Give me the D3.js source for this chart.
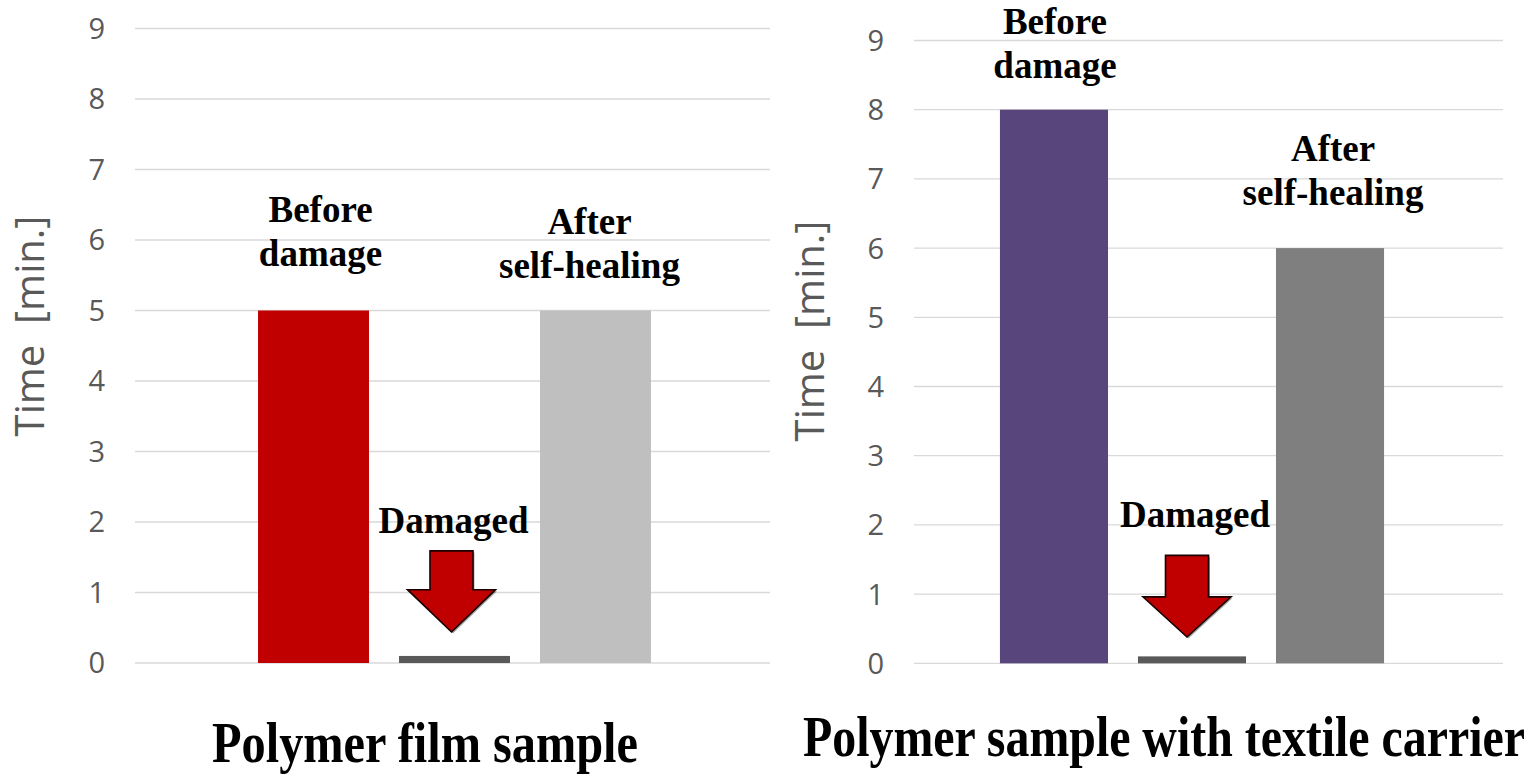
<!DOCTYPE html>
<html>
<head>
<meta charset="utf-8">
<script src="https://cdn.jsdelivr.net/npm/d3@7"></script>
<style>
  html, body { margin: 0; padding: 0; background: #fff; }
  svg { display: block; }
  .tick-label { font-family: "Open Sans", sans-serif; fill: #595959; }
  .axis-title { font-family: "Open Sans", sans-serif; fill: #595959; white-space: pre; }
  .note { font-family: "Liberation Serif", "Times New Roman", serif; font-weight: bold; fill: #000; }
</style>
</head>
<body>
<svg id="chart" width="1531" height="775"></svg>
<script>
// Categories shared by both panels
const categories = ["Before damage", "Damaged", "After self-healing"];

// Time values [min.] for each panel
const filmValues = [5, 0.1, 5];
const textileValues = [8, 0.1, 6];

// Y-axis ticks
const yTicks = [0, 1, 2, 3, 4, 5, 6, 7, 8, 9];

// Panel titles and bar colours
const filmTitle = "Polymer film sample";
const textileTitle = "Polymer sample with textile carrier";
const filmColors = ["#c00000", "#595959", "#bfbfbf"];
const textileColors = ["#57457b", "#595959", "#7f7f7f"];

// Arrow above the damaged bar, in axis units: shaft top, head base, tip
const filmArrow = [1.59, 1.04, 0.44];
const textileArrow = [1.56, 0.96, 0.38];

const svg = d3.select("#chart");

function panel(cfg) {
  const g = svg.append("g");
  const y = d3.scaleLinear().domain([0, 9]).range([cfg.y0, cfg.y9]);
  const x = d3.scaleBand().domain(categories).range(cfg.xr).padding(cfg.pad);

  // horizontal gridlines
  g.selectAll("line.grid").data(yTicks).join("line")
    .attr("class", "grid")
    .attr("x1", cfg.gx0).attr("x2", cfg.gx1)
    .attr("y1", d => y(d)).attr("y2", d => y(d))
    .attr("stroke", "#d9d9d9").attr("stroke-width", 1.3);

  // tick labels
  g.selectAll("text.tick-label").data(yTicks).join("text")
    .attr("class", "tick-label")
    .attr("x", cfg.tx).attr("y", d => y(d))
    .attr("dy", "0.36em")
    .attr("text-anchor", "end")
    .attr("font-size", 29)
    .text(d => d);

  // y-axis title
  g.append("text")
    .attr("class", "axis-title")
    .attr("transform", `translate(${cfg.ax},${cfg.ay}) rotate(-90)`)
    .attr("text-anchor", "middle")
    .attr("font-size", 40)
    .text("Time  [min.]");

  // bars
  g.selectAll("rect.bar").data(cfg.values).join("rect")
    .attr("class", "bar")
    .attr("x", (d, i) => x(categories[i]))
    .attr("width", x.bandwidth())
    .attr("y", d => y(d))
    .attr("height", d => y(0) - y(d))
    .attr("fill", (d, i) => cfg.colors[i]);

  // arrow pointing down at the damaged bar
  const cx = x(categories[1]) + x.bandwidth() / 2 + cfg.arrowDx;
  const [aTop, aBase, aTip] = cfg.arrow.map(v => y(v));
  const sw = 21.5, hw = 44;
  const pts = [[cx - sw, aTop], [cx + sw, aTop], [cx + sw, aBase], [cx + hw, aBase],
               [cx, aTip], [cx - hw, aBase], [cx - sw, aBase]];
  g.append("path")
    .attr("d", d3.line()(pts) + "Z")
    .attr("fill", "#000").attr("opacity", 0.35)
    .attr("transform", "translate(1.5,1.5)");
  g.append("path")
    .attr("d", d3.line()(pts) + "Z")
    .attr("fill", "#c00000")
    .attr("stroke", "#1a0000").attr("stroke-width", 1.6)
    .attr("stroke-linejoin", "miter");

  // category notes above the bars
  cfg.notes.forEach((n, i) => {
    const t = g.append("text")
      .attr("class", "note")
      .attr("text-anchor", "middle")
      .attr("font-size", 37);
    n.lines.forEach((ln, k) => {
      t.append("tspan")
        .attr("x", x(categories[i]) + x.bandwidth() / 2 + n.dx)
        .attr("y", y(cfg.values[i]) - n.rise + k * 44)
        .text(ln);
    });
  });

  // panel title, narrowed horizontally to its target width
  const title = g.append("text")
    .attr("class", "note")
    .attr("text-anchor", "middle")
    .attr("font-size", cfg.titleSize)
    .text(cfg.title);
  const natural = title.node().getComputedTextLength();
  const sx = cfg.titleLen / natural;
  title.attr("transform", `translate(${cfg.titleX},${cfg.titleY}) scale(${sx},1)`);
}

panel({
  values: filmValues, colors: filmColors, arrow: filmArrow, arrowDx: -3,
  y0: 663, y9: 28.5, xr: [228, 681], pad: 0.213,
  gx0: 135, gx1: 770, tx: 105, ax: 44, ay: 326,
  notes: [
    { lines: ["Before", "damage"], dx: 7, rise: 89 },
    { lines: ["Damaged"], dx: -1, rise: 123 },
    { lines: ["After", "self-healing"], dx: -6, rise: 77 }
  ],
  title: filmTitle, titleX: 425, titleY: 762, titleSize: 57, titleLen: 426
});

panel({
  values: textileValues, colors: textileColors, arrow: textileArrow, arrowDx: -5,
  y0: 663.3, y9: 40.5, xr: [970, 1414], pad: 0.217,
  gx0: 914, gx1: 1503, tx: 884, ax: 824, ay: 331,
  notes: [
    { lines: ["Before", "damage"], dx: 1, rise: 76 },
    { lines: ["Damaged"], dx: 3, rise: 129 },
    { lines: ["After", "self-healing"], dx: 3, rise: 87 }
  ],
  title: textileTitle, titleX: 1164, titleY: 756, titleSize: 56, titleLen: 722
});
</script>
</body>
</html>
